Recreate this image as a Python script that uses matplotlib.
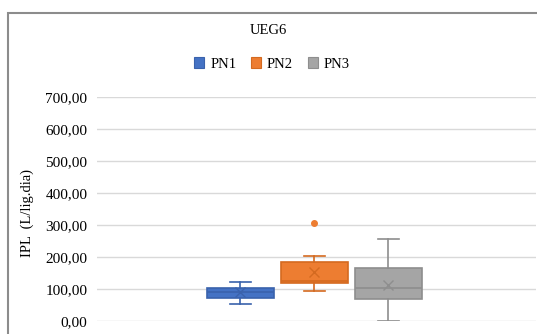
import matplotlib
matplotlib.use("Agg")
import matplotlib.pyplot as plt
from matplotlib.patches import Rectangle
from matplotlib.ticker import FuncFormatter

plt.rcParams['font.family'] = ['Liberation Serif', 'DejaVu Serif']

title = "UEG6"
series = ["PN1", "PN2", "PN3"]
whislo = [53, 94, 0]
q1 = [74, 119, 69]
med = [91, 126, 104]
q3 = [103, 184, 165]
whishi = [123, 204, 257]
means = [91, 154, 113]
fliers = [[], [307], []]
fills = ["#4472C4", "#ED7D31", "#A5A5A5"]
edges = ["#3A62AC", "#D46A20", "#8E8E8E"]
y_ticks = [0, 100, 200, 300, 400, 500, 600, 700]
ylabel = "IPL  (L/lig.dia)"

fig = plt.figure(figsize=(5.37, 3.34), dpi=100)
ax = fig.add_axes([97/537, 12.7/334, (536-97)/537, (321.3-97)/334])

positions = [-1, 0, 1]
for i, name in enumerate(series):
    stats = [dict(whislo=whislo[i], q1=q1[i], med=med[i], q3=q3[i],
                  whishi=whishi[i], mean=means[i], fliers=fliers[i], label=name)]
    ax.bxp(stats, positions=[positions[i]], widths=0.9, patch_artist=True,
           showmeans=True, capwidths=[0.28],
           boxprops=dict(facecolor=fills[i], edgecolor=edges[i], linewidth=1.2),
           medianprops=dict(color=edges[i], linewidth=1.2),
           whiskerprops=dict(color=edges[i], linewidth=1.2),
           capprops=dict(color=edges[i], linewidth=1.2),
           meanprops=dict(marker='x', markeredgecolor=edges[i], markersize=7, markeredgewidth=1.0),
           flierprops=dict(marker='o', markerfacecolor=fills[i], markeredgecolor=fills[i], markersize=4),
           zorder=3)

ax.set_xlim(-2.936, 2.996)
ax.set_ylim(0, 700)
ax.set_yticks(y_ticks)
ax.yaxis.set_major_formatter(FuncFormatter(lambda v, p: f"{v:.2f}".replace('.', ',')))
ax.tick_params(axis='y', length=0, labelsize=11, pad=7, colors='#000000')
ax.set_xticks([])
for s in ax.spines.values():
    s.set_visible(False)
ax.grid(axis='y', color='#D9D9D9', linewidth=1.0, zorder=0)
ax.set_axisbelow(True)
ax.set_ylabel(ylabel, fontsize=10.5)
ax.yaxis.set_label_coords(-0.1435, 0.485)

fig.text(268/537, 1 - 30/334, title, ha='center', va='center', fontsize=10.5)

handles = [Rectangle((0, 0), 1, 1, facecolor=fills[i], edgecolor=edges[i], linewidth=0.8) for i in range(3)]
fig.legend(handles, series, loc='center', bbox_to_anchor=(272/537, 1 - 64/334), ncol=3,
           frameon=False, fontsize=10.5, handlelength=0.7, handleheight=0.7,
           handletextpad=0.4, columnspacing=1.0)

fig.patches.append(Rectangle((8/537, -0.2), 1.1, 1.2 - 13/334, transform=fig.transFigure,
                             fill=False, edgecolor='#8C8C8C', linewidth=1.5, zorder=10))

fig.savefig("out.png", dpi=100)
